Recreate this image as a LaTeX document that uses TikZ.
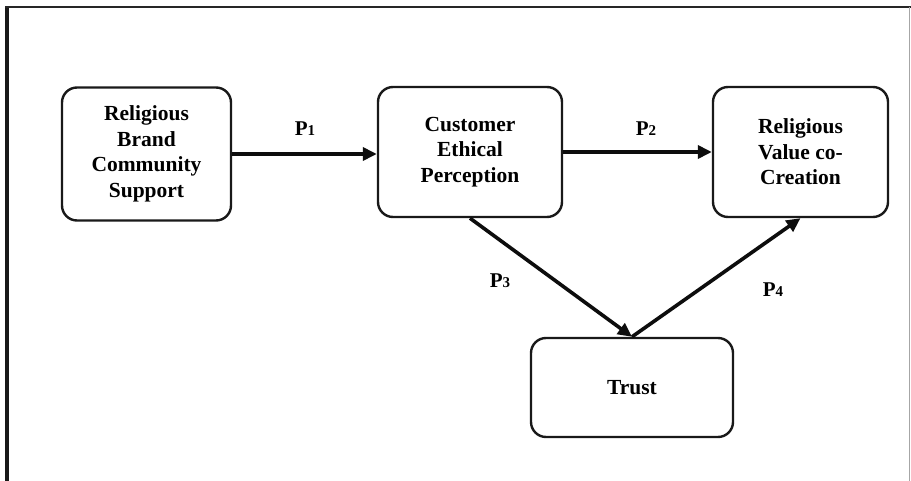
\documentclass[tikz,border=0pt]{standalone}
\usepackage{fontspec}
\setmainfont{Liberation Serif}
\usetikzlibrary{arrows.meta}
\begin{document}
\begin{tikzpicture}[x=1pt,y=-1pt,
  box/.style={draw=black!90, line width=2.4pt, rounded corners=15pt, align=center,
    font=\fontsize{21.5}{25.5}\selectfont\bfseries, inner sep=0pt},
  link/.style={line width=3.6pt, -{Triangle[length=14pt,width=13pt]}, black!95},
  plabel/.style={font=\fontsize{21}{24}\selectfont\bfseries}]
\useasboundingbox (0,0) rectangle (911,481);
\fill[white] (0,0) rectangle (911,481);
% frame
\draw[line width=4pt, black!90] (7,481) -- (7,6);
\draw[line width=2.4pt, black!85] (5,7) -- (911,7);
\draw[line width=0.8pt, black!35] (909,7) -- (909,481);
% boxes
\node[box, minimum width=169pt, minimum height=133pt] (rbc) at (146.5,154) {Religious\\Brand\\Community\\Support};
\node[box, minimum width=184pt, minimum height=130pt] (cep) at (470,152) {Customer\\Ethical\\Perception};
\node[box, minimum width=175pt, minimum height=130pt] (rvc) at (800.5,152) {Religious\\Value co-\\Creation};
\node[box, minimum width=202pt, minimum height=99pt] (tr) at (632,387.5) {Trust};
% arrows
\draw[link] (rbc.east) -- (cep.west |- rbc.east);
\draw[link] (cep.east) -- (rvc.west);
\draw[link] (cep.south) -- (tr.north);
\draw[link] (tr.north) -- (rvc.south);
% labels
\node[plabel] (p1) at (305,129) {P{\fontsize{15}{15}\selectfont 1}};
\node[plabel] (p2) at (646,129) {P{\fontsize{15}{15}\selectfont 2}};
\node[plabel] (p3) at (500,281) {P{\fontsize{15}{15}\selectfont 3}};
\node[plabel] (p4) at (773,290) {P{\fontsize{15}{15}\selectfont 4}};
\end{tikzpicture}
\end{document}
